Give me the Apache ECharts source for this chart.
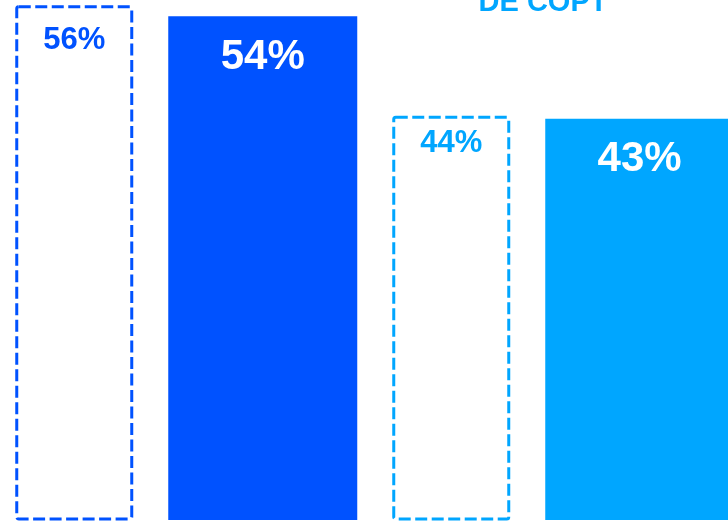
<!DOCTYPE html>
<html>
<head>
<meta charset="utf-8">
<script src="https://cdn.jsdelivr.net/npm/echarts@6/dist/echarts.min.js"></script>
<style>
html,body{margin:0;padding:0;background:#fff;}
#chart{width:728px;height:523px;}
</style>
</head>
<body>
<div id="chart"></div>
<script>
// Data
var categories = ['1', '2', '3', '4'];
var dashedValues = [56, '-', 44, '-'];
var solidValues = ['-', 54, '-', 43];
var titleText = 'DE COPT';

var DARK = '#0052ff';
var LIGHT = '#00a6ff';
var FONT = '"Liberation Sans", Arial, sans-serif';

var chart = echarts.init(document.getElementById('chart'));

var dashedColors = [DARK, null, LIGHT, null];
var dashedDist = [20, 0, 12, 0];
var solidColors = [null, DARK, null, LIGHT];

var dashedData = dashedValues.map(function (v, i) {
  if (v === '-') return '-';
  return {
    value: v,
    itemStyle: { borderColor: dashedColors[i] },
    label: { color: dashedColors[i], distance: dashedDist[i] }
  };
});
var solidData = solidValues.map(function (v, i) {
  if (v === '-') return '-';
  return { value: v, itemStyle: { color: solidColors[i] } };
});

chart.setOption({
  animation: false,
  backgroundColor: '#ffffff',
  grid: { left: -20, width: 754, top: 0, height: 523, containLabel: false, outerBoundsMode: 'none' },
  xAxis: [
    { type: 'category', data: categories, show: false, gridIndex: 0 },
    { type: 'category', data: categories, show: false, gridIndex: 0 }
  ],
  yAxis: [
    { type: 'value', min: -0.3215, max: 55.734, show: false, splitLine: { show: false } },
    { type: 'value', min: -0.2717, max: 56.576, show: false, splitLine: { show: false } }
  ],
  graphic: [{
    type: 'text',
    style: {
      text: titleText,
      x: 543,
      y: 17,
      textAlign: 'center',
      textVerticalAlign: 'bottom',
      fill: LIGHT,
      font: 'bold 29px ' + FONT
    }
  }],
  series: [
    {
      type: 'bar',
      xAxisIndex: 0,
      yAxisIndex: 1,
      data: dashedData,
      barWidth: 118,
      itemStyle: {
        color: 'rgba(255,255,255,0)',
        borderWidth: 3,
        borderType: [12, 4.5],
        borderRadius: 2
      },
      label: {
        show: true,
        position: 'insideTop',
        formatter: '{c}%',
        fontSize: 31,
        fontWeight: 'bold',
        fontFamily: FONT
      }
    },
    {
      type: 'bar',
      xAxisIndex: 1,
      yAxisIndex: 0,
      data: solidData,
      barWidth: 189,
      label: {
        show: true,
        position: 'insideTop',
        distance: 20,
        formatter: '{c}%',
        fontSize: 42,
        fontWeight: 'bold',
        color: '#ffffff',
        fontFamily: FONT
      }
    }
  ]
});
</script>
</body>
</html>
